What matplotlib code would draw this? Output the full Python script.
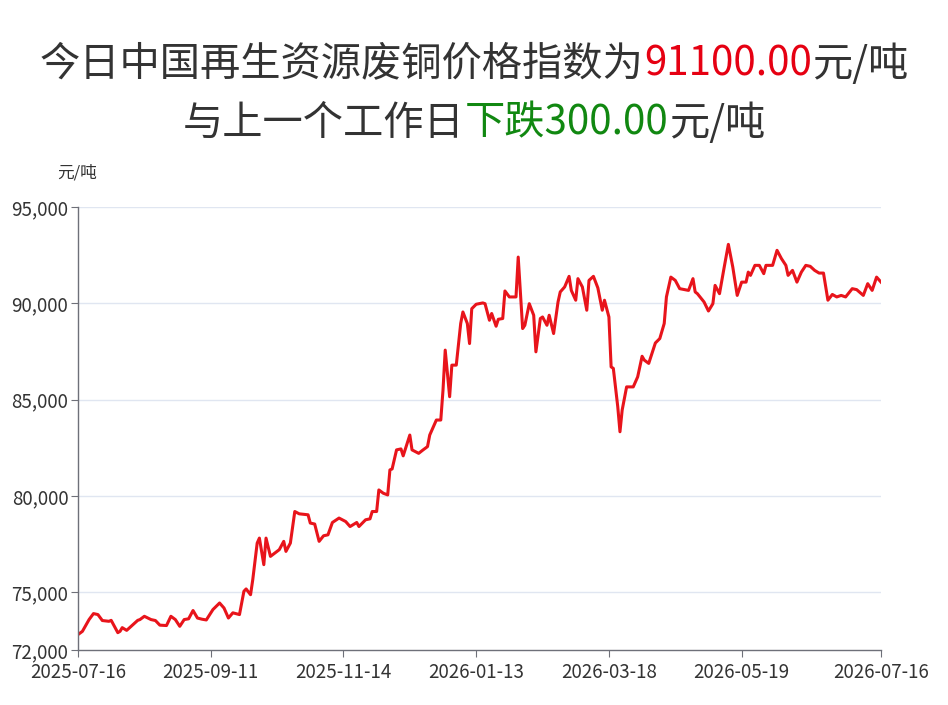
import matplotlib
matplotlib.use("Agg")
import matplotlib.pyplot as plt

plt.rcParams['font.family'] = ['Noto Sans CJK SC', 'DejaVu Sans']

# 交易日序号（按图中位置读取）与价格
day_idx = [
    0, 2, 5, 7, 9, 11, 14, 15, 18, 19, 20, 22, 24, 27, 28, 30, 33, 35, 37, 40,
    42, 44, 46, 48, 50, 52, 54, 56, 58, 61, 64, 66, 68, 70, 73, 75, 76, 78, 79, 81,
    82, 84, 85, 87, 90, 91, 93, 94, 96, 98, 100, 104, 105, 107, 109, 111, 113, 115, 118, 121,
    123, 126, 127, 130, 132, 133, 135, 136, 138, 140, 141, 142, 144, 146, 147, 150, 151, 154, 156, 158,
    159, 160, 162, 164, 165, 166, 168, 169, 171, 173, 174, 176, 177, 178, 180, 183, 184, 186, 187, 189,
    190, 192, 193, 195, 198, 199, 201, 202, 204, 206, 207, 209, 210, 212, 213, 215, 217, 218, 220, 222,
    223, 225, 226, 228, 230, 231, 233, 235, 237, 238, 240, 241, 242, 244, 245, 246, 248, 251, 253, 255,
    256, 258, 261, 263, 265, 266, 268, 270, 272, 276, 278, 279, 280, 283, 285, 287, 288, 290, 292, 294,
    296, 298, 300, 302, 303, 304, 306, 308, 310, 311, 314, 316, 318, 320, 321, 323, 325, 327, 329, 331,
    333, 335, 337, 339, 341, 343, 345, 347, 350, 352, 355, 357, 359, 361, 363,
]
price = [
    72800, 72970, 73580, 73890, 73840, 73530, 73490, 73540, 72900, 72970, 73160, 73020, 73230, 73540, 73580, 73750, 73580, 73530, 73290, 73270,
    73750, 73580, 73230, 73580, 73620, 74050, 73660, 73600, 73560, 74100, 74440, 74180, 73660, 73930, 73840, 75050, 75170, 74870, 75650, 77550,
    77810, 76430, 77810, 76860, 77120, 77210, 77640, 77120, 77550, 79190, 79070, 79020, 78590, 78540, 77640, 77930, 77980, 78620, 78850, 78670,
    78410, 78620, 78410, 78760, 78810, 79190, 79190, 80310, 80140, 80050, 81350, 81400, 82390, 82440, 82080, 83160, 82390, 82210, 82390, 82560,
    83160, 83420, 83940, 83940, 85490, 87570, 85150, 86790, 86790, 88950, 89550, 88950, 87910, 89720, 89950, 90020, 89980, 89120, 89470, 88810,
    89170, 89210, 90640, 90330, 90330, 92400, 88690, 88860, 89980, 89380, 87480, 89210, 89290, 88860, 89380, 88430, 90070, 90590, 90850, 91400,
    90670, 90160, 91280, 90850, 89640, 91190, 91400, 90800, 89640, 90160, 89290, 86700, 86620, 84630, 83330, 84460, 85660, 85660, 86180, 87250,
    87050, 86880, 87940, 88170, 88950, 90330, 91360, 91190, 90760, 90670, 91280, 90590, 90500, 90070, 89600, 89980, 90930, 90500, 91800, 93060,
    91880, 90410, 91100, 91100, 91620, 91450, 91970, 91970, 91540, 91970, 91970, 92750, 92320, 91970, 91450, 91710, 91100, 91620, 91970, 91920,
    91710, 91570, 91570, 90160, 90460, 90330, 90410, 90330, 90760, 90710, 90410, 91020, 90670, 91360, 91100,
]

tick_pos = [0, 60, 120, 180, 240, 300, 363]
tick_labels = ['2025-07-16', '2025-09-11', '2025-11-14', '2026-01-13',
               '2026-03-18', '2026-05-19', '2026-07-16']
y_ticks = [72000, 75000, 80000, 85000, 90000, 95000]

title_line1 = [('今日中国再生资源废铜价格指数为', '#333333'), ('91100.00', '#e60012'), ('元/吨', '#333333')]
title_line2 = [('与上一个工作日', '#333333'), ('下跌300.00', '#118811'), ('元/吨', '#333333')]

W, H = 948, 705
fig = plt.figure(figsize=(W / 100, H / 100), dpi=100)
ax = fig.add_axes([78 / W, 1 - 650 / H, (881 - 78) / W, (650 - 207) / H])

ax.plot(day_idx, price, color='#e8141b', linewidth=2.2, solid_joinstyle='round')

ax.set_xlim(0, 363)
ax.set_ylim(72000, 95000)
ax.set_xticks(tick_pos)
ax.set_xticklabels(tick_labels)
ax.set_yticks(y_ticks)
ax.set_yticklabels([f'{v:,}' for v in y_ticks])

for v in y_ticks[1:]:
    ax.axhline(v, color='#e0e6f1', linewidth=1, zorder=0)

for side in ['top', 'right']:
    ax.spines[side].set_visible(False)
for side in ['left', 'bottom']:
    ax.spines[side].set_color('#6e7079')
    ax.spines[side].set_linewidth(1)

ax.tick_params(axis='x', length=5, color='#6e7079', labelsize=13.5, labelcolor='#333333', pad=4)
ax.tick_params(axis='y', length=5, color='#6e7079', labelsize=13.5, labelcolor='#333333', pad=2)

fig.text(77 / W, 1 - 173 / H, '元/吨', ha='center', va='center', fontsize=12, color='#333333')


def draw_title(y_px, parts, size):
    """把不同颜色的文字片段拼成一行并居中"""
    texts = [fig.text(0, 1 - y_px / H, s, color=c, fontsize=size, ha='left', va='center')
             for s, c in parts]
    fig.canvas.draw()
    r = fig.canvas.get_renderer()
    widths = [t.get_window_extent(r).width for t in texts]
    x = (W - sum(widths)) / 2
    for t, w in zip(texts, widths):
        t.set_x(x / W)
        x += w


draw_title(64, title_line1, 29)
draw_title(123, title_line2, 29)

plt.savefig('out.png', dpi=100)
plt.close()
